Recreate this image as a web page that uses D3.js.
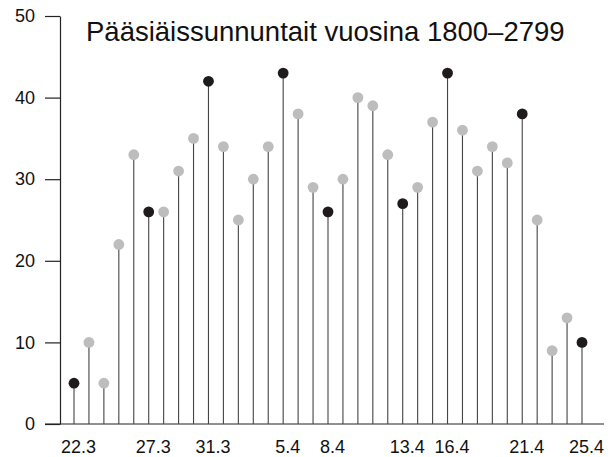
<!DOCTYPE html>
<html><head><meta charset="utf-8">
<script src="https://cdn.jsdelivr.net/npm/d3@7"></script>
<style>body{margin:0;background:#fff}svg{display:block;font-family:"Liberation Sans",Arial,Helvetica,sans-serif}</style>
</head><body><svg id="c" width="614" height="457"></svg>
<script>
const dates = ["22.3","23.3","24.3","25.3","26.3","27.3","28.3","29.3","30.3","31.3",
  "1.4","2.4","3.4","4.4","5.4","6.4","7.4","8.4","9.4","10.4",
  "11.4","12.4","13.4","14.4","15.4","16.4","17.4","18.4","19.4","20.4",
  "21.4","22.4","23.4","24.4","25.4"];
const counts = [5,10,5,22,33,26,26,31,35,42,
  34,25,30,34,43,38,29,26,30,40,
  39,33,27,29,37,43,36,31,34,32,
  38,25,9,13,10];
const highlighted = ["22.3","27.3","31.3","5.4","8.4","13.4","16.4","21.4","25.4"];
const xTickLabels = highlighted;
const yTicks = [0,10,20,30,40,50];
const title = "Pääsiäissunnuntait vuosina 1800–2799";

const svg = d3.select("#c");
const x = d3.scalePoint().domain(dates).range([74,582]);
const y = d3.scaleLinear().domain([0,50]).range([424,16]);

// x baseline
svg.append("line").attr("x1",45).attr("x2",604).attr("y1",y(0)).attr("y2",y(0))
  .attr("stroke","#222").attr("stroke-width",1.2);

// y axis
const ya = svg.append("g").attr("transform","translate(60,0)")
  .call(d3.axisLeft(y).tickValues(yTicks).tickSize(15).tickSizeOuter(0).tickPadding(10));
ya.select(".domain").attr("stroke","#222").attr("stroke-width",1.2);
ya.selectAll(".tick line").attr("stroke","#222").attr("stroke-width",1.2);
ya.selectAll(".tick text").attr("font-size",18).attr("fill","#111")
  .attr("font-family","'Liberation Sans',Arial,sans-serif");

// x labels
const xa = svg.append("g").attr("transform",`translate(0,${y(0)})`)
  .call(d3.axisBottom(x).tickValues(xTickLabels).tickSize(0).tickPadding(16));
xa.select(".domain").remove();
xa.selectAll(".tick text").attr("font-size",18).attr("fill","#111").attr("dx",4)
  .attr("font-family","'Liberation Sans',Arial,sans-serif");

// stems
svg.append("g").selectAll("line").data(dates).join("line")
  .attr("x1",d=>x(d)).attr("x2",d=>x(d))
  .attr("y1",y(0)).attr("y2",(d,i)=>y(counts[i]))
  .attr("stroke","#444").attr("stroke-width",1.1);

// dots
svg.append("g").selectAll("circle").data(dates).join("circle")
  .attr("cx",d=>x(d)).attr("cy",(d,i)=>y(counts[i])).attr("r",5.4)
  .attr("fill",d=>highlighted.includes(d)?"#1f1a1c":"#bdbdbd");

// title
svg.append("text").attr("x",86).attr("y",41).attr("font-size",27.5).attr("fill","#111")
  .text(title);
</script></body></html>
